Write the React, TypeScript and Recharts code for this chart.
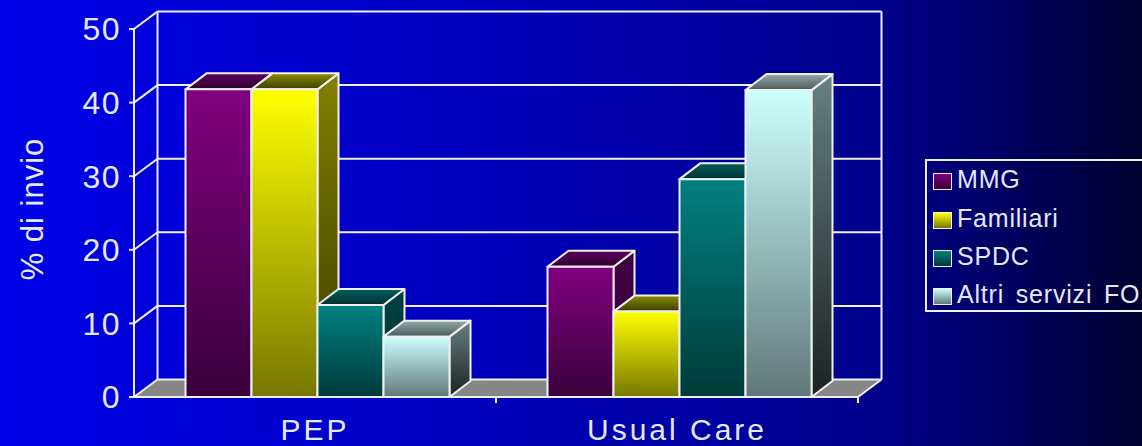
import React from 'react';
import { BarChart, Bar, XAxis, YAxis, CartesianGrid, Legend, Label } from 'recharts';

const categories = ['PEP', 'Usual Care'];
const mmg = [41.8, 17.7];
const familiari = [41.8, 11.6];
const spdc = [12.5, 29.6];
const altri = [8.2, 41.7];
const seriesNames = ['MMG', 'Familiari', 'SPDC', 'Altri servizi FO'];
const seriesValues = [mmg, familiari, spdc, altri];
const yTicks = [0, 10, 20, 30, 40, 50];

const rows = categories.map((name, i) => {
  const row: Record<string, string | number> = { name };
  seriesNames.forEach((s, j) => {
    row[s] = seriesValues[j][i];
  });
  return row;
});

// Colours for the faces of each series: [light end, dark end].
const frontStops = [
  ['#800080', '#3a003a'],
  ['#ffff00', '#777700'],
  ['#008080', '#003a3a'],
  ['#ccffff', '#607878'],
];
const sideStops = [
  ['#400040', '#380038'],
  ['#808000', '#3c3c00'],
  ['#004040', '#003838'],
  ['#668080', '#1c2222'],
];
const topStops = [
  ['#5c005c', '#300030'],
  ['#8c8c00', '#3c3c00'],
  ['#006060', '#003030'],
  ['#94aaaa', '#4a5a5a'],
];

// Depth of the pseudo-3D box walls and of the bars inside them.
const WALL_DX = 23.5;
const WALL_DY = -17.5;
const BAR_DX = 21;
const BAR_DY = -16;
const BAR_SHIFT = 2.5;
const LINE = '#f0f0f0';
const TEXT = '#e4e9ff';
const FONT = '"Liberation Sans", Arial, sans-serif';

const Gradients = () => (
  <defs>
    {[frontStops, sideStops, topStops].map((stops, k) =>
      stops.map((pair, i) => (
        <linearGradient key={`${k}-${i}`} id={`face-${k}-${i}`} x1="0" y1="0" x2="0" y2="1">
          <stop offset="0" stopColor={pair[0]} />
          <stop offset="1" stopColor={pair[1]} />
        </linearGradient>
      )),
    )}
  </defs>
);

const Box = (props: any) => {
  const { x, y, width, height, series } = props;
  const l = x + BAR_SHIFT;
  const r = l + width;
  const b = y + height;
  return (
    <g stroke={LINE} strokeWidth={2} strokeLinejoin="round">
      <path
        d={`M${r},${y} L${r + BAR_DX},${y + BAR_DY} L${r + BAR_DX},${b + BAR_DY} L${r},${b} Z`}
        fill={`url(#face-1-${series})`}
      />
      <path
        d={`M${l},${y} L${l + BAR_DX},${y + BAR_DY} L${r + BAR_DX},${y + BAR_DY} L${r},${y} Z`}
        fill={`url(#face-2-${series})`}
      />
      <rect x={l} y={y} width={width} height={height} fill={`url(#face-0-${series})`} />
    </g>
  );
};

// One horizontal grid level: back-wall line, slanted side-wall line, and at
// the zero level also the floor, wall verticals and the category tick marks.
const WallLine = (props: any) => {
  const { x1, x2, y1 } = props;
  const isFloor = y1 > 390;
  const top = y1 + WALL_DY;
  return (
    <g stroke={LINE} strokeWidth={2} fill="none">
      {isFloor && (
        <>
          <path
            d={`M${x1},${y1} L${x1 + WALL_DX},${top} L${x2 + WALL_DX},${top} L${x2},${y1} Z`}
            fill="#868686"
            stroke="none"
          />
          <line x1={x1 + WALL_DX} y1={top} x2={x1 + WALL_DX} y2={29 + WALL_DY} />
          <line x1={x2 + WALL_DX} y1={top} x2={x2 + WALL_DX} y2={29 + WALL_DY} />
          <line x1={x2} y1={y1} x2={x2} y2={y1 + 6} />
          <line x1={(x1 + x2) / 2} y1={y1} x2={(x1 + x2) / 2} y2={y1 + 6} />
        </>
      )}
      <line x1={x1} y1={y1} x2={x1 + WALL_DX} y2={top} />
      <line x1={x1 + WALL_DX} y1={top} x2={x2 + WALL_DX} y2={top} />
      {isFloor && <line x1={x2} y1={y1} x2={x2 + WALL_DX} y2={top} />}
    </g>
  );
};

const rowTops = [173, 212, 250, 288];

const LegendBox = ({ payload }: any) => (
  <div
    style={{
      position: 'relative',
      width: 240,
      height: 153,
      border: `2px solid ${LINE}`,
      boxSizing: 'border-box',
      fontFamily: FONT,
      fontSize: 25,
      color: TEXT,
      letterSpacing: 0.8,
      wordSpacing: 4,
    }}
  >
    {(payload || []).map((item: any, i: number) => (
      <React.Fragment key={item.value}>
        <div
          style={{
            position: 'absolute',
            left: 6,
            top: rowTops[i] - 161,
            width: 19,
            height: 17,
            boxSizing: 'border-box',
            border: `1.5px solid ${LINE}`,
            background: `linear-gradient(${frontStops[i][0]}, ${frontStops[i][1]})`,
          }}
        />
        <div
          style={{
            position: 'absolute',
            left: 30,
            top: rowTops[i] - 170,
            lineHeight: '30px',
            whiteSpace: 'pre',
          }}
        >
          {item.value}
        </div>
      </React.Fragment>
    ))}
  </div>
);

export default function App() {
  return (
    <div
      style={{
        position: 'fixed',
        left: 0,
        top: 0,
        width: 1142,
        height: 446,
        overflow: 'hidden',
        background: 'linear-gradient(90deg, #0000e8 0%, #0000c0 40%, #00008a 78%, #000030 100%)',
      }}
    >
      <BarChart
        width={1142}
        height={446}
        data={rows}
        margin={{ left: 74, right: 284, top: 29, bottom: 0 }}
        barGap={0}
        barCategoryGap={49}
      >
        <Gradients />
        <CartesianGrid vertical={false} horizontal={(p: any) => <WallLine key={p.key} {...p} />} />
        <XAxis
          dataKey="name"
          height={49}
          axisLine={{ stroke: LINE, strokeWidth: 2 }}
          tickLine={false}
          tickMargin={16}
          tick={{ fill: TEXT, fontSize: 30, fontFamily: FONT, letterSpacing: 3 }}
        />
        <YAxis
          width={60}
          domain={[0, 50]}
          ticks={yTicks}
          axisLine={{ stroke: LINE, strokeWidth: 2 }}
          tickLine={{ stroke: LINE, strokeWidth: 2 }}
          tickSize={5}
          tickMargin={8}
          tick={{ fill: TEXT, fontSize: 32, fontFamily: FONT, letterSpacing: 1.5 }}
        >
          <Label
            value="% di invio"
            angle={-90}
            position="center"
            dx={-72}
            dy={-4}
            style={{ fill: TEXT, fontSize: 31, fontFamily: FONT, letterSpacing: 1 }}
          />
        </YAxis>
        {seriesNames.map((name, i) => (
          <Bar
            key={name}
            dataKey={name}
            isAnimationActive={false}
            shape={(p: any) => <Box {...p} series={i} />}
          />
        ))}
        <Legend
          layout="horizontal"
          align="center"
          verticalAlign="middle"
          itemSorter={null}
          content={<LegendBox />}
          wrapperStyle={{ position: 'absolute', left: 925, top: 159, width: 240 }}
        />
      </BarChart>
    </div>
  );
}
